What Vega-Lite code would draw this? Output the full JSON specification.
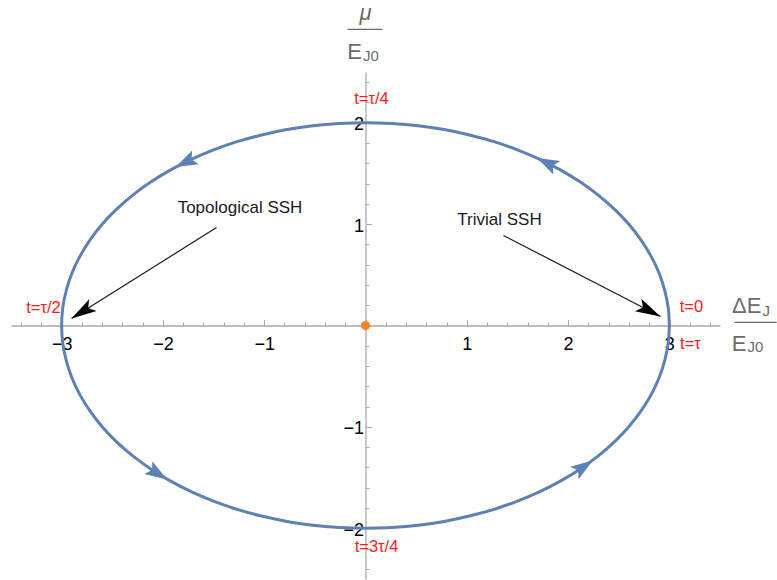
{
  "$schema": "https://vega.github.io/schema/vega-lite/v6.json",
  "width": 709,
  "height": 507,
  "autosize": {"type": "none"},
  "padding": {"left": 11, "top": 72, "right": 57, "bottom": 1},
  "background": "white",
  "config": {"view": {"stroke": null}, "font": "Liberation Sans"},
  "datasets": {
    "orbit": [
      {"deg": 0, "x": 3.0, "y": 0.0}, {"deg": 5, "x": 2.989, "y": 0.174}, {"deg": 10, "x": 2.954, "y": 0.347},
      {"deg": 15, "x": 2.898, "y": 0.518}, {"deg": 20, "x": 2.819, "y": 0.684}, {"deg": 25, "x": 2.719, "y": 0.845},
      {"deg": 30, "x": 2.598, "y": 1.0}, {"deg": 35, "x": 2.457, "y": 1.147}, {"deg": 40, "x": 2.298, "y": 1.286},
      {"deg": 45, "x": 2.121, "y": 1.414}, {"deg": 50, "x": 1.928, "y": 1.532}, {"deg": 55, "x": 1.721, "y": 1.638},
      {"deg": 60, "x": 1.5, "y": 1.732}, {"deg": 65, "x": 1.268, "y": 1.813}, {"deg": 70, "x": 1.026, "y": 1.879},
      {"deg": 75, "x": 0.776, "y": 1.932}, {"deg": 80, "x": 0.521, "y": 1.97}, {"deg": 85, "x": 0.261, "y": 1.992},
      {"deg": 90, "x": 0.0, "y": 2.0}, {"deg": 95, "x": -0.261, "y": 1.992}, {"deg": 100, "x": -0.521, "y": 1.97},
      {"deg": 105, "x": -0.776, "y": 1.932}, {"deg": 110, "x": -1.026, "y": 1.879}, {"deg": 115, "x": -1.268, "y": 1.813},
      {"deg": 120, "x": -1.5, "y": 1.732}, {"deg": 125, "x": -1.721, "y": 1.638}, {"deg": 130, "x": -1.928, "y": 1.532},
      {"deg": 135, "x": -2.121, "y": 1.414}, {"deg": 140, "x": -2.298, "y": 1.286}, {"deg": 145, "x": -2.457, "y": 1.147},
      {"deg": 150, "x": -2.598, "y": 1.0}, {"deg": 155, "x": -2.719, "y": 0.845}, {"deg": 160, "x": -2.819, "y": 0.684},
      {"deg": 165, "x": -2.898, "y": 0.518}, {"deg": 170, "x": -2.954, "y": 0.347}, {"deg": 175, "x": -2.989, "y": 0.174},
      {"deg": 180, "x": -3.0, "y": 0.0}, {"deg": 185, "x": -2.989, "y": -0.174}, {"deg": 190, "x": -2.954, "y": -0.347},
      {"deg": 195, "x": -2.898, "y": -0.518}, {"deg": 200, "x": -2.819, "y": -0.684}, {"deg": 205, "x": -2.719, "y": -0.845},
      {"deg": 210, "x": -2.598, "y": -1.0}, {"deg": 215, "x": -2.457, "y": -1.147}, {"deg": 220, "x": -2.298, "y": -1.286},
      {"deg": 225, "x": -2.121, "y": -1.414}, {"deg": 230, "x": -1.928, "y": -1.532}, {"deg": 235, "x": -1.721, "y": -1.638},
      {"deg": 240, "x": -1.5, "y": -1.732}, {"deg": 245, "x": -1.268, "y": -1.813}, {"deg": 250, "x": -1.026, "y": -1.879},
      {"deg": 255, "x": -0.776, "y": -1.932}, {"deg": 260, "x": -0.521, "y": -1.97}, {"deg": 265, "x": -0.261, "y": -1.992},
      {"deg": 270, "x": 0.0, "y": -2.0}, {"deg": 275, "x": 0.261, "y": -1.992}, {"deg": 280, "x": 0.521, "y": -1.97},
      {"deg": 285, "x": 0.776, "y": -1.932}, {"deg": 290, "x": 1.026, "y": -1.879}, {"deg": 295, "x": 1.268, "y": -1.813},
      {"deg": 300, "x": 1.5, "y": -1.732}, {"deg": 305, "x": 1.721, "y": -1.638}, {"deg": 310, "x": 1.928, "y": -1.532},
      {"deg": 315, "x": 2.121, "y": -1.414}, {"deg": 320, "x": 2.298, "y": -1.286}, {"deg": 325, "x": 2.457, "y": -1.147},
      {"deg": 330, "x": 2.598, "y": -1.0}, {"deg": 335, "x": 2.719, "y": -0.845}, {"deg": 340, "x": 2.819, "y": -0.684},
      {"deg": 345, "x": 2.898, "y": -0.518}, {"deg": 350, "x": 2.954, "y": -0.347}, {"deg": 355, "x": 2.989, "y": -0.174},
      {"deg": 360, "x": 3.0, "y": 0.0}
    ],
    "flow": [
      {"x": 1.805, "y": 1.597},
      {"x": -1.763, "y": 1.618},
      {"x": -2.065, "y": -1.451},
      {"x": 2.14, "y": -1.402}
    ],
    "origin": [{"x": 0, "y": 0}],
    "times": [
      {"label": "t=0", "x": 3.218, "y": 0.187},
      {"label": "t=τ", "x": 3.208, "y": -0.187},
      {"label": "t=τ/4", "x": 0.059, "y": 2.229},
      {"label": "t=τ/2", "x": -3.179, "y": 0.168},
      {"label": "t=3τ/4", "x": 0.109, "y": -2.189}
    ],
    "notes": [
      {"label": "Topological SSH", "tx": -1.239, "ty": 1.159, "x": -1.471, "y": 0.966, "x2": -2.902, "y2": 0.069},
      {"label": "Trivial SSH", "tx": 1.323, "ty": 1.045, "x": 1.362, "y": 0.888, "x2": 2.912, "y2": 0.089}
    ],
    "titleGreek": [{"t": "μ", "x": 0, "y": 3.01}],
    "titleBase": [
      {"t": "E", "x": -0.035, "y": 2.633},
      {"t": "ΔE", "x": 3.909, "y": 0.128},
      {"t": "E", "x": 3.761, "y": -0.256}
    ],
    "titleSub": [
      {"t": "J0", "x": -0.025, "y": 2.613},
      {"t": "J", "x": 3.919, "y": 0.089},
      {"t": "J0", "x": 3.771, "y": -0.266}
    ],
    "titleBars": [
      {"x": -0.178, "x2": 0.168, "y": 2.92},
      {"x": 3.643, "x2": 4.06, "y": 0.03}
    ]
  },
  "layer": [
    {
      "data": {"name": "orbit"},
      "mark": {"type": "line", "color": "#5E81B5", "strokeWidth": 3, "interpolate": "catmull-rom", "clip": false},
      "encoding": {
        "x": {
          "field": "x", "type": "quantitative",
          "scale": {"domain": [-3.5, 3.5], "nice": false, "zero": false},
          "axis": {
            "title": null,
            "orient": "bottom",
            "offset": -253.5,
            "grid": false,
            "tickCount": 200,
            "values": [-3.4, -3.2, -3, -2.8, -2.6, -2.4, -2.2, -2, -1.8, -1.6, -1.4, -1.2, -1, -0.8, -0.6, -0.4, -0.2, 0, 0.2, 0.4, 0.6, 0.8, 1, 1.2, 1.4, 1.6, 1.8, 2, 2.2, 2.4, 2.6, 2.8, 3, 3.2, 3.4],
            "labelExpr": "abs(datum.value - round(datum.value)) < 0.001 && abs(datum.value) > 0.001 ? replace(format(datum.value, '.0f'), '-', '−') : ''",
            "domainColor": "#A9A9A9",
            "domainWidth": 1.3,
            "tickColor": "#A9A9A9",
            "tickWidth": 1,
            "tickSize": {"condition": {"test": "abs(datum.value - round(datum.value)) < 0.001", "value": -6}, "value": -3.5},
            "labelFontSize": 18,
            "labelColor": "#000000",
            "labelPadding": 16,
            "labelFlush": false,
            "labelOverlap": false,
            "labelBound": false,
            "zindex": 0
          }
        },
        "y": {
          "field": "y", "type": "quantitative",
          "scale": {"domain": [-2.5, 2.5], "nice": false, "zero": false},
          "axis": {
            "title": null,
            "orient": "left",
            "offset": -354.5,
            "grid": false,
            "tickCount": 200,
            "values": [-2.4, -2.2, -2, -1.8, -1.6, -1.4, -1.2, -1, -0.8, -0.6, -0.4, -0.2, 0, 0.2, 0.4, 0.6, 0.8, 1, 1.2, 1.4, 1.6, 1.8, 2, 2.2, 2.4],
            "labelExpr": "abs(datum.value - round(datum.value)) < 0.001 && abs(datum.value) > 0.001 ? replace(format(datum.value, '.0f'), '-', '−') : ''",
            "domainColor": "#A9A9A9",
            "domainWidth": 1.3,
            "tickColor": "#A9A9A9",
            "tickWidth": 1,
            "tickSize": {"condition": {"test": "abs(datum.value - round(datum.value)) < 0.001", "value": -6}, "value": -3.5},
            "labelFontSize": 18,
            "labelColor": "#000000",
            "labelPadding": 8,
            "labelOffset": 2,
            "labelFlush": false,
            "labelOverlap": false,
            "labelBound": false,
            "zindex": 0
          }
        },
        "order": {"field": "deg", "type": "quantitative"}
      }
    },
    {
      "data": {"name": "flow"},
      "transform": [
        {"calculate": "atan2(-1.5 * datum.y, datum.x * 2 / 3) * 180 / PI", "as": "heading"}
      ],
      "mark": {"type": "point", "shape": "M0,-1L0.6,0.75L0,0.4L-0.6,0.75Z", "filled": true, "color": "#5E81B5", "opacity": 1, "size": 640, "strokeWidth": 0},
      "encoding": {
        "x": {"field": "x", "type": "quantitative"},
        "y": {"field": "y", "type": "quantitative"},
        "angle": {"field": "heading", "type": "quantitative", "scale": null}
      }
    },
    {
      "data": {"name": "origin"},
      "mark": {"type": "point", "shape": "circle", "filled": true, "color": "#F5861F", "opacity": 1, "size": 85},
      "encoding": {
        "x": {"field": "x", "type": "quantitative"},
        "y": {"field": "y", "type": "quantitative"}
      }
    },
    {
      "data": {"name": "times"},
      "mark": {"type": "text", "color": "#FF1A1A", "fontSize": 16.5, "align": "center", "baseline": "middle"},
      "encoding": {
        "x": {"field": "x", "type": "quantitative"},
        "y": {"field": "y", "type": "quantitative"},
        "text": {"field": "label"}
      }
    },
    {
      "data": {"name": "notes"},
      "mark": {"type": "rule", "color": "#1A1A1A", "strokeWidth": 1.2},
      "encoding": {
        "x": {"field": "x", "type": "quantitative"},
        "y": {"field": "y", "type": "quantitative"},
        "x2": {"field": "x2"},
        "y2": {"field": "y2"}
      }
    },
    {
      "data": {"name": "notes"},
      "transform": [
        {"calculate": "atan2(datum.x2 - datum.x, datum.y2 - datum.y) * 180 / PI", "as": "heading"}
      ],
      "mark": {"type": "point", "shape": "M0,0L0.5,1.8L0,1.4L-0.5,1.8Z", "filled": true, "color": "#000000", "opacity": 1, "size": 780, "strokeWidth": 0},
      "encoding": {
        "x": {"field": "x2", "type": "quantitative"},
        "y": {"field": "y2", "type": "quantitative"},
        "angle": {"field": "heading", "type": "quantitative", "scale": null}
      }
    },
    {
      "data": {"name": "notes"},
      "mark": {"type": "text", "color": "#1A1A1A", "fontSize": 17, "align": "center", "baseline": "middle"},
      "encoding": {
        "x": {"field": "tx", "type": "quantitative"},
        "y": {"field": "ty", "type": "quantitative"},
        "text": {"field": "label"}
      }
    },
    {
      "data": {"name": "titleGreek"},
      "mark": {"type": "text", "color": "#6B6B6B", "fontSize": 22, "fontStyle": "italic", "align": "center", "baseline": "alphabetic"},
      "encoding": {
        "x": {"field": "x", "type": "quantitative"},
        "y": {"field": "y", "type": "quantitative"},
        "text": {"field": "t"}
      }
    },
    {
      "data": {"name": "titleBase"},
      "mark": {"type": "text", "color": "#6B6B6B", "fontSize": 22, "align": "right", "baseline": "alphabetic"},
      "encoding": {
        "x": {"field": "x", "type": "quantitative"},
        "y": {"field": "y", "type": "quantitative"},
        "text": {"field": "t"}
      }
    },
    {
      "data": {"name": "titleSub"},
      "mark": {"type": "text", "color": "#6B6B6B", "fontSize": 15, "align": "left", "baseline": "alphabetic"},
      "encoding": {
        "x": {"field": "x", "type": "quantitative"},
        "y": {"field": "y", "type": "quantitative"},
        "text": {"field": "t"}
      }
    },
    {
      "data": {"name": "titleBars"},
      "mark": {"type": "rule", "color": "#6B6B6B", "strokeWidth": 1.3},
      "encoding": {
        "x": {"field": "x", "type": "quantitative"},
        "x2": {"field": "x2"},
        "y": {"field": "y", "type": "quantitative"}
      }
    }
  ]
}
